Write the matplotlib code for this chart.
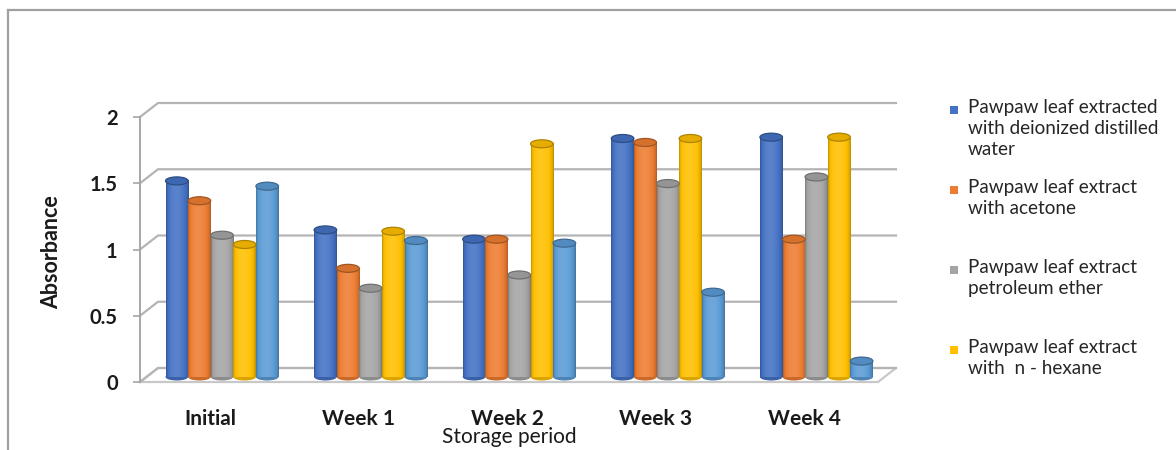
import numpy as np
import matplotlib
matplotlib.use("Agg")
import matplotlib.pyplot as plt
from matplotlib.patches import Ellipse, Polygon, Rectangle
from matplotlib.lines import Line2D
from matplotlib.colors import to_rgb

# absorbance of the pawpaw leaf extracts over the storage period
periods = ["Initial", "Week 1", "Week 2", "Week 3", "Week 4"]
deionized_water = [1.48, 1.11, 1.04, 1.80, 1.81]
acetone = [1.33, 0.82, 1.04, 1.77, 1.04]
petroleum_ether = [1.07, 0.67, 0.77, 1.46, 1.51]
n_hexane = [1.00, 1.10, 1.76, 1.80, 1.81]
fifth_extract = [1.44, 1.03, 1.01, 0.64, 0.12]

legend_labels = [
    "Pawpaw leaf extracted\nwith deionized distilled\nwater",
    "Pawpaw leaf extract\nwith acetone",
    "Pawpaw leaf extract\npetroleum ether",
    "Pawpaw leaf extract\nwith  n - hexane",
]
colors = ["#4472C4", "#ED7D31", "#A5A5A5", "#FFC000", "#5B9BD5"]
y_ticks = [0, 0.5, 1, 1.5, 2]
y_tick_labels = ["0", "0.5", "1", "1.5", "2"]

W, H = 1176, 450
PX_X = 148.6   # pixels per category
PX_Y = 132.5   # pixels per absorbance unit
X0, Y0 = 210, 382   # pixel of first category / zero on the front axis

plt.rcParams["font.family"] = ["Lato", "DejaVu Sans"]

fig = plt.figure(figsize=(W / 100, H / 100), dpi=100)
ax = fig.add_axes([0, 0, 1, 1])
ax.set_facecolor("none")


def px_x(p):
    return p / PX_X


def px_y(p):
    return p / PX_Y


front_left = px_x(140 - X0)
front_right = px_x(878 - X0)
depth_x, depth_y = px_x(18), px_y(14)
grid_c = "#B4B4B4"

# floor
floor = Polygon([(front_left, 0), (front_right, 0),
                 (front_right + depth_x, depth_y), (front_left + depth_x, depth_y)],
                closed=True, facecolor="white", edgecolor="#C8C8C8", lw=1.6, zorder=1)
ax.add_patch(floor)

# side wall + back wall gridlines
for v in y_ticks:
    ax.plot([front_left, front_left + depth_x, front_right + depth_x],
            [v, v + depth_y, v + depth_y], color=grid_c, lw=1.6, zorder=1)

# cylinders
values = [deionized_water, acetone, petroleum_ether, n_hexane, fifth_extract]
bw = px_x(22.6)
shift = px_x(12)
base = px_y(5)
t = np.linspace(0, 1, 64)
prof = 0.70 + 0.42 * np.sin(np.pi * t ** 0.85) ** 0.5


def shade(rgb, f):
    rgb = np.asarray(rgb)
    if f <= 1:
        return rgb * f
    return rgb + (1 - rgb) * (f - 1)


x = np.arange(len(periods))
for s, (vals, c) in enumerate(zip(values, colors)):
    rgb = to_rgb(c)
    xs = x + shift + (s - 2) * bw
    bars = ax.bar(xs, vals, width=bw, bottom=base, color=c, lw=0, zorder=3)
    grad = np.array([[shade(rgb, f) for f in prof]])
    for p in bars.patches:
        x0, w = p.get_x(), p.get_width()
        y0, h = p.get_y(), p.get_height()
        ax.imshow(grad, extent=[x0, x0 + w, y0, y0 + h], aspect="auto",
                  interpolation="bilinear", zorder=3.1)
        ax.add_patch(Ellipse((x0 + w / 2, y0), w, px_y(7),
                             facecolor=shade(rgb, 0.85), lw=0, zorder=2.9))
        ax.add_patch(Ellipse((x0 + w / 2, y0 + h), w, px_y(8),
                             facecolor=shade(rgb, 0.9), edgecolor=shade(rgb, 0.68),
                             lw=0.9, zorder=3.2))

ax.set_xlim(px_x(-X0), px_x(W - X0))
ax.set_ylim(px_y(Y0 - H), px_y(Y0))

# front value axis
for side in ["top", "right", "bottom"]:
    ax.spines[side].set_visible(False)
ax.spines["left"].set_position(("data", front_left))
ax.spines["left"].set_bounds(0, 2)
ax.spines["left"].set_color("#A6A6A6")
ax.spines["left"].set_linewidth(1.4)
ax.set_yticks(y_ticks)
ax.set_yticklabels(y_tick_labels)
ax.tick_params(axis="y", direction="out", length=5, width=1.2, color="#A6A6A6",
               pad=11, labelsize=14.5, labelcolor="#1A1A1A")
for lbl in ax.get_yticklabels():
    lbl.set_fontweight("bold")

ax.set_xticks(x)
ax.set_xticklabels(periods, fontsize=15, fontweight="bold", color="#1A1A1A")
ax.tick_params(axis="x", length=0, pad=-29.5)

ax.set_ylabel("Absorbance", fontsize=15.5, fontweight="bold", color="#1A1A1A")
ax.yaxis.set_label_coords(62 / W, 1 - 252 / H)
ax.set_xlabel("Storage period", fontsize=15, color="#1A1A1A")
ax.xaxis.set_label_coords(509 / W, 1 - 427 / H)

# legend (only four entries fit in the frame)
for k, (lab, c) in enumerate(zip(legend_labels, colors)):
    yc = 110 + 80 * k
    fig.add_artist(Rectangle((950 / W, 1 - (yc + 4) / H), 8 / W, 8 / H,
                             transform=fig.transFigure, facecolor=c, lw=0))
    fig.text(968 / W, 1 - (yc - 11) / H, lab, fontsize=13.6, va="top", ha="left",
             color="#262626", linespacing=1.28)

# chart frame
fig.add_artist(Line2D([8 / W, 8 / W], [0, 1 - 10 / H], transform=fig.transFigure,
                      color="#A0A0A0", lw=1.6))
fig.add_artist(Line2D([8 / W, 1], [1 - 10 / H, 1 - 10 / H], transform=fig.transFigure,
                      color="#A0A0A0", lw=1.6))

fig.savefig("out.png", dpi=100)
